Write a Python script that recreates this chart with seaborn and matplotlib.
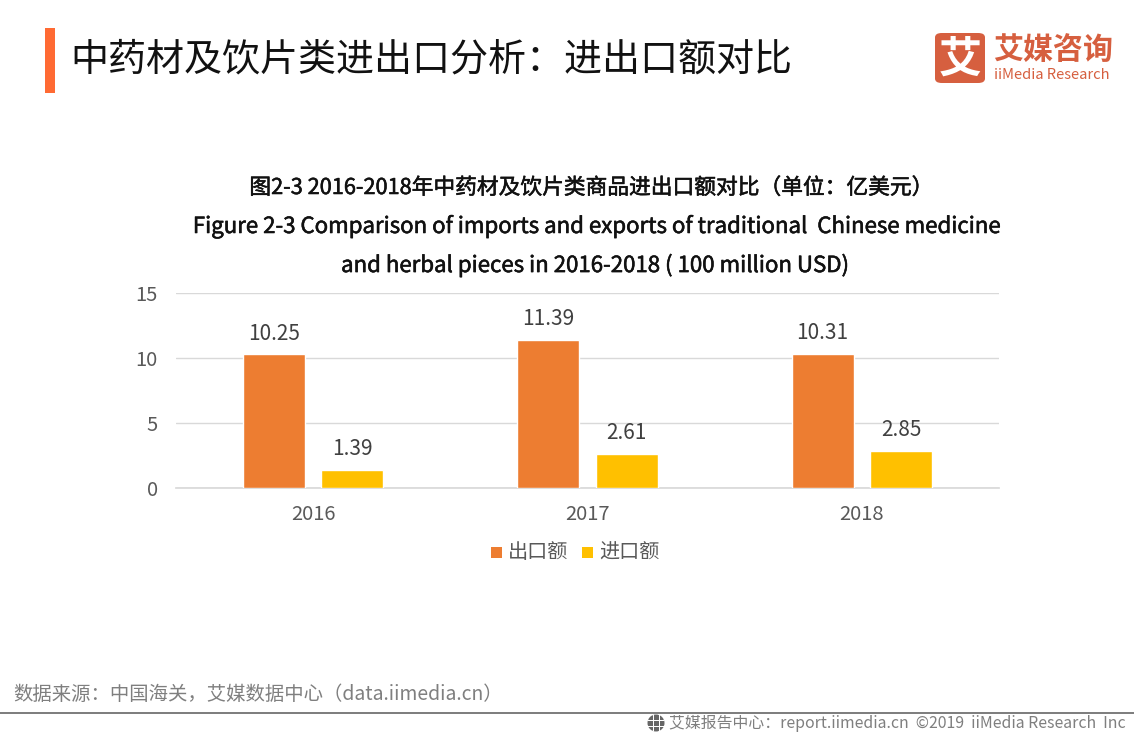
import pandas as pd
import matplotlib.pyplot as plt
import matplotlib.patheffects as pe
import seaborn as sns
from matplotlib.patches import Rectangle, FancyBboxPatch, Ellipse

years = ["2016", "2017", "2018"]
exports = [10.25, 11.39, 10.31]
imports = [1.39, 2.61, 2.85]
y_ticks = [0, 5, 10, 15]

W, H = 1134, 737
CJK = ["Noto Sans CJK SC", "DejaVu Sans"]
ORANGE = "#ED7D31"
YELLOW = "#FFC000"
LOGO = "#D65F3F"

sns.set_theme(style="white")
plt.rcParams["font.family"] = CJK

df = pd.DataFrame({
    "year": years * 2,
    "kind": ["出口额"] * 3 + ["进口额"] * 3,
    "value": exports + imports,
})

fig = plt.figure(figsize=(W / 100, H / 100), dpi=100)
ax = fig.add_axes([176 / W, 1 - 487.7 / H, 823 / W, 195 / H])

sns.barplot(data=df, x="year", y="value", hue="kind", palette=[ORANGE, YELLOW],
            width=0.572, gap=0.21, saturation=1, legend=False, ax=ax, zorder=3)

for bars in ax.containers:
    ax.bar_label(bars, fmt="%.2f", padding=7, fontsize=15, color="#404040")

ax.set_ylim(0, 15)
ax.set_xlim(-0.5, 2.5)
ax.set_yticks(y_ticks)
ax.set_xlabel("")
ax.set_ylabel("")
ax.grid(axis="y", color="#D9D9D9", linewidth=1, zorder=0)
ax.set_axisbelow(True)
sns.despine(ax=ax, left=True, top=True, right=True)
ax.spines["bottom"].set_color("#D9D9D9")
ax.tick_params(axis="both", length=0, labelsize=14.5, labelcolor="#595959")
ax.tick_params(axis="x", pad=12)
ax.tick_params(axis="y", pad=13)


def px_text(x, y, s, **kw):
    # positions in reference pixels
    return fig.text(x / W, 1 - y / H, s, va="center", **kw)


def px_rect(x, y, w, h, color):
    fig.add_artist(Rectangle((x / W, 1 - (y + h) / H), w / W, h / H, color=color,
                             transform=fig.transFigure, linewidth=0))


# header
px_rect(45, 28, 10, 65, "#FF6A33")
px_text(70, 60, "中药材及饮片类进出口分析：进出口额对比", fontsize=27.4, color="#111111")

# logo
fig.add_artist(FancyBboxPatch((935 / W, 1 - 83 / H), 50 / W, 50 / H,
                              boxstyle="round,pad=0,rounding_size=0.006",
                              transform=fig.transFigure, color=LOGO, linewidth=0))
px_text(960, 60, "艾", fontsize=31, color="white", ha="center", fontweight="bold")
px_text(993.5, 50, "艾媒咨询", fontsize=21.6, color=LOGO, fontweight="bold")
px_text(994, 75, "iiMedia Research", fontsize=10.6, color=LOGO)

# chart title, slightly thickened like the reference
heavy = [pe.withStroke(linewidth=0.4, foreground="#111111")]
px_text(591.5, 188, "图2-3 2016-2018年中药材及饮片类商品进出口额对比（单位：亿美元）",
        fontsize=15.65, color="#111111", ha="center", path_effects=heavy)
px_text(596.5, 226, "Figure 2-3 Comparison of imports and exports of traditional  Chinese medicine",
        fontsize=16, color="#111111", ha="center", path_effects=heavy)
px_text(595, 265, "and herbal pieces in 2016-2018 ( 100 million USD)",
        fontsize=16, color="#111111", ha="center", path_effects=heavy)

# legend
px_rect(491, 547, 11, 11, ORANGE)
px_text(508, 553, "出口额", fontsize=14.5, color="#595959")
px_rect(582, 547, 11, 11, YELLOW)
px_text(599, 553, "进口额", fontsize=14.5, color="#595959")

# footer
px_text(13, 694, "数据来源：中国海关，艾媒数据中心（data.iimedia.cn）", fontsize=13.95, color="#7F7F7F")
px_rect(0, 711.5, W, 2, "#7F7F7F")

# globe icon
fig.add_artist(Ellipse((656 / W, 1 - 723 / H), 17 / W, 17 / H, color="#666666",
                       transform=fig.transFigure, linewidth=0))
px_rect(648, 719.5, 16, 1, "white")
px_rect(648, 725.5, 16, 1, "white")
px_rect(653, 715, 1, 16, "white")
px_rect(658.5, 715, 1, 16, "white")

px_text(669, 723, "艾媒报告中心：report.iimedia.cn  ©2019  iiMedia Research  Inc",
        fontsize=11.42, color="#7F7F7F")

fig.savefig("out.png", dpi=100)
